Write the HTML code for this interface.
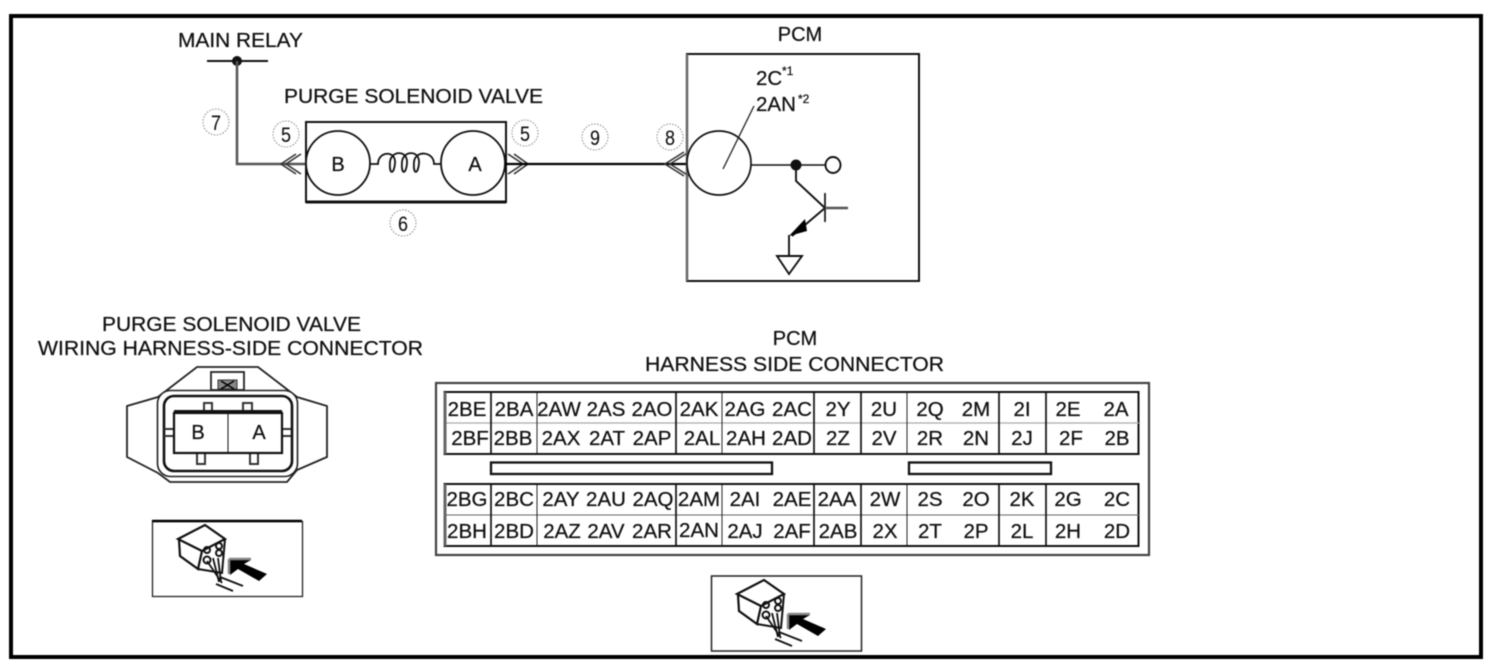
<!DOCTYPE html>
<html><head><meta charset="utf-8"><style>
html,body{margin:0;padding:0;background:#fff;width:1494px;height:670px;overflow:hidden}
svg{display:block;filter:blur(.4px)}
text{font-family:"Liberation Sans",sans-serif;fill:#111;stroke:#111;stroke-width:.25px}
.g text{font-size:20.5px;text-anchor:middle}
.c text{font-size:21px;text-anchor:middle;stroke-width:.1px}
.c circle{fill:none;stroke:#888;stroke-width:1;stroke-dasharray:1.5 1.5}
</style></head><body>
<svg width="1494" height="670" viewBox="0 0 1494 670" xmlns="http://www.w3.org/2000/svg">
<defs>
<g id="icon" fill="none" stroke="#111">
<polygon points="178,539 205,525 225,539 202,551" stroke-width="2.2"/>
<polyline points="179,540 180,556 198,569 202,551" stroke-width="2.2"/>
<polyline points="225,539 222,573 198,569" stroke-width="2"/>
<circle cx="207" cy="550" r="3" stroke-width="2"/><circle cx="219" cy="546" r="3" stroke-width="2"/>
<circle cx="219" cy="553" r="3" stroke-width="2"/><circle cx="207" cy="560" r="3.5" stroke-width="2"/>
<path d="M207 561L222 583M213 558L219 582M218 558L221 582M220 577L243 586M216 584L233 591" stroke-width="1.800"/>
<polygon fill="#000" stroke="none" points="229,560 251,560 244,564 267,574 259,581 238,569 230,575"/>
<path d="M229 559H251M229 559V574" stroke="#888" stroke-width="2.500"/>
</g>
</defs>

<rect x="11" y="16" width="1470" height="641" fill="none" stroke="#000" stroke-width="4"/>

<!-- top schematic -->
<text x="178" y="47" font-size="20.500" textLength="125" lengthAdjust="spacingAndGlyphs">MAIN RELAY</text>
<line x1="207" y1="61" x2="268" y2="61" stroke="#111" stroke-width="2"/>
<circle cx="237" cy="61" r="5" fill="#111"/>
<polyline points="237,61 237,164 305,164" fill="none" stroke="#555" stroke-width="2.500"/>
<text x="284" y="103" font-size="20.500" textLength="259" lengthAdjust="spacingAndGlyphs">PURGE SOLENOID VALVE</text>
<path d="M306 122H506V202H306Z" fill="#fff" stroke="#111" stroke-width="2"/>
<line x1="306" y1="202" x2="506" y2="202" stroke="#111" stroke-width="3"/>
<circle cx="338" cy="163" r="32" fill="#fff" stroke="#111" stroke-width="1.800"/>
<circle cx="473" cy="163" r="32" fill="#fff" stroke="#111" stroke-width="1.800"/>
<text x="338" y="171" font-size="20" text-anchor="middle">B</text>
<text x="475" y="171" font-size="20" text-anchor="middle">A</text>
<path d="M370 164H378C378 151 396 150 395 163C394 175 389 175 390 162C391 150 408 150 407 163C406 175 401 175 402 162C403 150 420 150 419 163C418 175 413 175 414 162C415 150 434 151 434 164H441" fill="none" stroke="#111" stroke-width="1.800"/>
<path d="M296 154L281 164L296 174M301 154L286 164L301 174" fill="none" stroke="#333" stroke-width="1.600"/>
<path d="M508 154L523 164L508 174M514 154L528 164L514 174" fill="none" stroke="#333" stroke-width="1.600"/>
<line x1="505" y1="164" x2="687" y2="164" stroke="#000" stroke-width="2.200"/>
<path d="M684 152L665 164L684 176M689 152L670 164L689 176" fill="none" stroke="#333" stroke-width="1.600"/>

<g class="c">
<circle cx="216" cy="122" r="13"/><text x="216" y="130" textLength="10" lengthAdjust="spacingAndGlyphs">7</text>
<circle cx="286" cy="134" r="13"/><text x="286" y="142" textLength="10" lengthAdjust="spacingAndGlyphs">5</text>
<circle cx="525" cy="133" r="13"/><text x="525" y="141" textLength="10" lengthAdjust="spacingAndGlyphs">5</text>
<circle cx="403" cy="223" r="13"/><text x="403" y="231" textLength="10" lengthAdjust="spacingAndGlyphs">6</text>
<circle cx="595" cy="137" r="13"/><text x="595" y="145" textLength="10" lengthAdjust="spacingAndGlyphs">9</text>
<circle cx="670" cy="137" r="13"/><text x="670" y="145" textLength="10" lengthAdjust="spacingAndGlyphs">8</text>
</g>

<text x="800" y="41" font-size="20" text-anchor="middle">PCM</text>
<rect x="687" y="54" width="232" height="227" fill="none" stroke="#111" stroke-width="2"/>
<line x1="687" y1="54" x2="687" y2="281" stroke="#666" stroke-width="2.500"/>
<circle cx="719" cy="163" r="32" fill="#fff" stroke="#111" stroke-width="1.700"/>
<line x1="723" y1="169" x2="754" y2="106" stroke="#222" stroke-width="1.300"/>
<text x="756" y="85" font-size="20.500">2C</text><text x="782" y="75" font-size="12">*1</text>
<text x="756" y="111" font-size="20.500">2AN</text><text x="798" y="103" font-size="12">*2</text>
<line x1="751" y1="165" x2="825" y2="165" stroke="#111" stroke-width="1.600"/>
<circle cx="796" cy="165" r="5.500" fill="#111"/>
<ellipse cx="833" cy="165" rx="7.500" ry="8" fill="#fff" stroke="#111" stroke-width="1.900"/>
<polyline points="796,165 796,181 825,208 792,236" fill="none" stroke="#111" stroke-width="1.900"/>
<line x1="825" y1="193" x2="825" y2="222" stroke="#111" stroke-width="1.700"/>
<line x1="825" y1="208" x2="848" y2="208" stroke="#555" stroke-width="2.500"/>
<polygon points="789,236 805,219 807,231" fill="#000"/>
<polyline points="789,235 789,256" fill="none" stroke="#111" stroke-width="1.900"/>
<polygon points="777,256 802,256 789,274" fill="#fff" stroke="#111" stroke-width="1.900"/>

<!-- left connector -->
<text x="102" y="331" font-size="20.500" textLength="259" lengthAdjust="spacingAndGlyphs">PURGE SOLENOID VALVE</text>
<text x="38" y="355" font-size="20.500" textLength="385" lengthAdjust="spacingAndGlyphs">WIRING HARNESS-SIDE CONNECTOR</text>
<polygon points="127,406 158,397 197,367 258,367 297,397 327,406 327,457 297,470 287,482 170,482 158,473 127,457" fill="#fff" stroke="#222" stroke-width="1.800"/>
<rect x="211" y="372" width="33" height="18" fill="#fff" stroke="#222" stroke-width="1.800"/>
<rect x="218" y="380" width="19" height="9" fill="#888" stroke="#333" stroke-width="1"/>
<path d="M221 381L234 389M234 381L221 389" stroke="#000" stroke-width="1.500"/>
<rect x="157.500" y="390.500" width="140" height="86" rx="13" fill="#fff" stroke="#222" stroke-width="1.600"/>
<rect x="164" y="396" width="128" height="75" rx="10" fill="#fff" stroke="#111" stroke-width="2.600"/>
<path d="M204 412V403H212V412M243 412V403H252V412M197 453V464H205V453M250 453V464H258V453M164 429H174M164 436H174M282 429H291M282 436H291" fill="none" stroke="#333" stroke-width="2"/>
<rect x="174" y="413" width="108" height="40" fill="#fff" stroke="#111" stroke-width="2.200"/>
<line x1="174" y1="412" x2="282" y2="412" stroke="#111" stroke-width="4"/>
<line x1="228" y1="412" x2="228" y2="453" stroke="#111" stroke-width="1"/>
<text x="198" y="439" font-size="20" text-anchor="middle">B</text>
<text x="259" y="439" font-size="20" text-anchor="middle">A</text>

<rect x="152.500" y="521.500" width="150" height="75" fill="#fff" stroke="#222" stroke-width="1.300"/>
<line x1="152" y1="521" x2="302" y2="521" stroke="#000" stroke-width="2.500"/>
<use href="#icon"/>

<!-- right connector -->
<text x="795" y="345" font-size="20" text-anchor="middle">PCM</text>
<text x="645" y="371" font-size="20.500" textLength="299" lengthAdjust="spacingAndGlyphs">HARNESS SIDE CONNECTOR</text>
<rect x="436" y="383" width="713" height="172" fill="#fff" stroke="#444" stroke-width="2.200"/>

<g fill="none" stroke="#111">
<rect x="444.500" y="392" width="694" height="62" stroke-width="2"/>
<rect x="444.500" y="484" width="694" height="62" stroke-width="2"/>
<path d="M444 423H1139" stroke="#aaa" stroke-width="1.300"/>
<path d="M444 515H1139" stroke="#666" stroke-width="1"/>
<path d="M445 392V454M445 484V546" stroke="#666" stroke-width="3"/>
<path d="M491 392V454M676 392V454M814 392V454M861 392V454M999 392V454M1046 392V454M491 484V546M676 484V546M814 484V546M861 484V546M999 484V546M1046 484V546" stroke-width="1.700"/>
<path d="M537 392V454M722 392V454M907 392V454M537 484V546M722 484V546M907 484V546" stroke-width=".9"/>
<rect x="491" y="462.500" width="281" height="11.500" stroke-width="2.300"/>
<rect x="909" y="462.500" width="142" height="11.500" stroke-width="2.300"/>
</g>

<g class="g">
<text x="467" y="416">2BE</text><text x="514" y="416">2BA</text><text x="559" y="416">2AW</text><text x="606" y="416">2AS</text><text x="652" y="416">2AO</text><text x="699" y="416">2AK</text><text x="745" y="416">2AG</text><text x="792" y="416">2AC</text><text x="838" y="416">2Y</text><text x="884" y="416">2U</text><text x="930" y="416">2Q</text><text x="976" y="416">2M</text><text x="1022" y="416">2I</text><text x="1068" y="416">2E</text><text x="1116" y="416">2A</text>
<text x="470" y="445">2BF</text><text x="513" y="445">2BB</text><text x="561" y="445">2AX</text><text x="607" y="445">2AT</text><text x="652" y="445">2AP</text><text x="702" y="445">2AL</text><text x="746" y="445">2AH</text><text x="792" y="445">2AD</text><text x="838" y="445">2Z</text><text x="884" y="445">2V</text><text x="930" y="445">2R</text><text x="976" y="445">2N</text><text x="1022" y="445">2J</text><text x="1071" y="445">2F</text><text x="1117" y="445">2B</text>
<text x="467" y="506">2BG</text><text x="514" y="506">2BC</text><text x="561" y="506">2AY</text><text x="606" y="506">2AU</text><text x="653" y="506">2AQ</text><text x="699" y="506">2AM</text><text x="745" y="506">2AI</text><text x="792" y="506">2AE</text><text x="837" y="506">2AA</text><text x="885" y="506">2W</text><text x="930" y="506">2S</text><text x="976" y="506">2O</text><text x="1022" y="506">2K</text><text x="1068" y="506">2G</text><text x="1117" y="506">2C</text>
<text x="467" y="538">2BH</text><text x="514" y="538">2BD</text><text x="562" y="538">2AZ</text><text x="606" y="538">2AV</text><text x="652" y="538">2AR</text><text x="699" y="537">2AN</text><text x="745" y="538">2AJ</text><text x="792" y="538">2AF</text><text x="838" y="538">2AB</text><text x="885" y="538">2X</text><text x="930" y="538">2T</text><text x="976" y="538">2P</text><text x="1022" y="538">2L</text><text x="1068" y="538">2H</text><text x="1117" y="538">2D</text>
</g>

<rect x="711.500" y="576" width="150" height="75" fill="#fff" stroke="#222" stroke-width="1.500"/>
<use href="#icon" transform="translate(559,55)"/>
</svg>
</body></html>
